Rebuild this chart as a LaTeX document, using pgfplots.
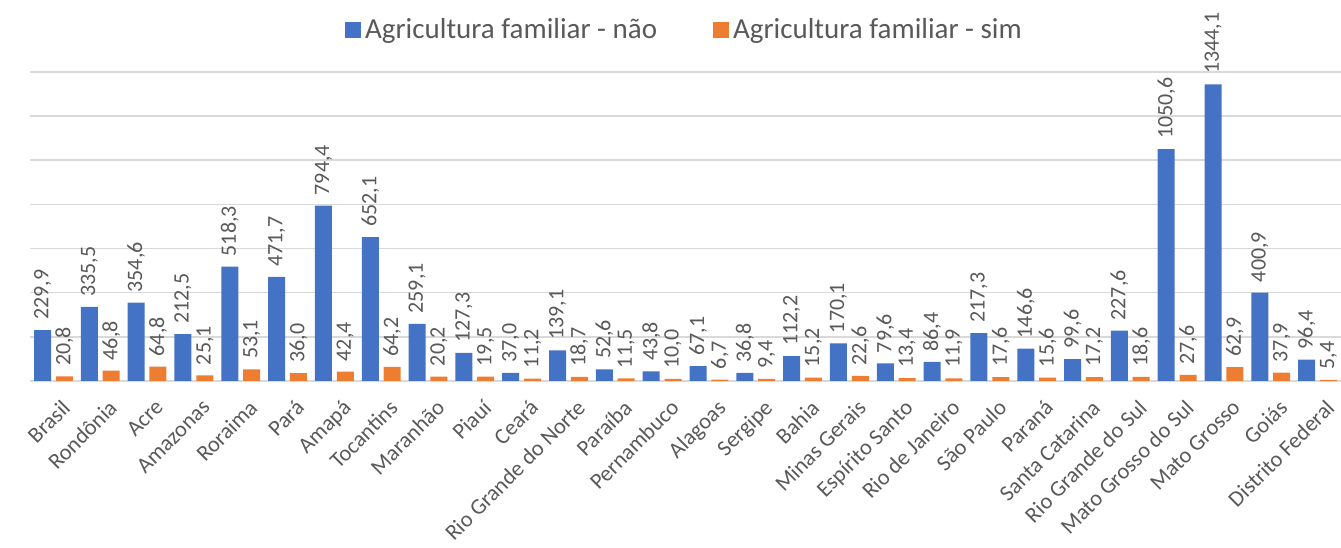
\documentclass[border=0pt]{standalone}
\usepackage{fontspec}
\setmainfont{Carlito}
\usepackage{pgfplots}
\pgfplotsset{compat=1.18}
\definecolor{serno}{HTML}{4472C4}
\definecolor{sersim}{HTML}{ED7D31}
\definecolor{txtgray}{HTML}{595959}
\definecolor{gridgray}{HTML}{D9D9D9}

\pgfplotstableread{
idx nao sim
0 229.9 20.8
1 335.5 46.8
2 354.6 64.8
3 212.5 25.1
4 518.3 53.1
5 471.7 36.0
6 794.4 42.4
7 652.1 64.2
8 259.1 20.2
9 127.3 19.5
10 37.0 11.2
11 139.1 18.7
12 52.6 11.5
13 43.8 10.0
14 67.1 6.7
15 36.8 9.4
16 112.2 15.2
17 170.1 22.6
18 79.6 13.4
19 86.4 11.9
20 217.3 17.6
21 146.6 15.6
22 99.6 17.2
23 227.6 18.6
24 1050.6 27.6
25 1344.1 62.9
26 400.9 37.9
27 96.4 5.4
}\dados

\begin{document}
\begin{tikzpicture}
\begin{axis}[
    scale only axis,
    width=655.5pt, height=154.5pt,
    xmin=-0.5, xmax=27.5,
    ymin=0, ymax=1400,
    ytick={0,200,...,1400}, yticklabels={},
    ymajorgrids, grid style={gridgray, line width=0.8pt},
    axis line style={draw=none},
    major tick style={draw=none},
    xtick={0,...,27},
    xticklabels={Brasil,Rondônia,Acre,Amazonas,Roraima,Pará,Amapá,Tocantins,Maranhão,Piauí,Ceará,Rio Grande do Norte,Paraíba,Pernambuco,Alagoas,Sergipe,Bahia,Minas Gerais,Espírito Santo,Rio de Janeiro,São Paulo,Paraná,Santa Catarina,Rio Grande do Sul,Mato Grosso do Sul,Mato Grosso,Goiás,Distrito Federal},
    xticklabel style={rotate=45, anchor=north east, font=\fontsize{11.2}{13}\selectfont,
        text=txtgray, inner sep=0.5pt, yshift=-5pt, xshift=0pt},
    clip=false,
    ybar, bar width=8.5pt,
    /pgf/number format/assume math mode=true,
    nodes near coords,
    nodes near coords style={rotate=90, anchor=west, font=\fontsize{11}{13}\selectfont, text=txtgray,
        inner sep=5pt,
        /pgf/number format/fixed, /pgf/number format/fixed zerofill, /pgf/number format/precision=1,
        /pgf/number format/use comma, /pgf/number format/1000 sep={}},
    legend style={at={(0.5,1.136)}, anchor=center, draw=none, legend columns=2,
        font=\fontsize{14.5}{16}\selectfont, text=txtgray, inner sep=0pt,
        /tikz/every even column/.append style={column sep=26pt}},
    legend image code/.code={\fill[#1] (-2pt,-4pt) rectangle (6pt,4pt);},
]
\addplot[fill=serno, draw=none, bar shift=-5.45pt] table[x=idx, y=nao] {\dados};
\addplot[fill=sersim, draw=none, bar shift=5.45pt] table[x=idx, y=sim] {\dados};
\legend{Agricultura familiar - não, Agricultura familiar - sim}
\coordinate (bl) at (rel axis cs:-0.0229,-0.540);
\coordinate (tr) at (rel axis cs:1,1.233);
\end{axis}
\pgfresetboundingbox
\path[use as bounding box] (bl) rectangle (tr);
\end{tikzpicture}
\end{document}
